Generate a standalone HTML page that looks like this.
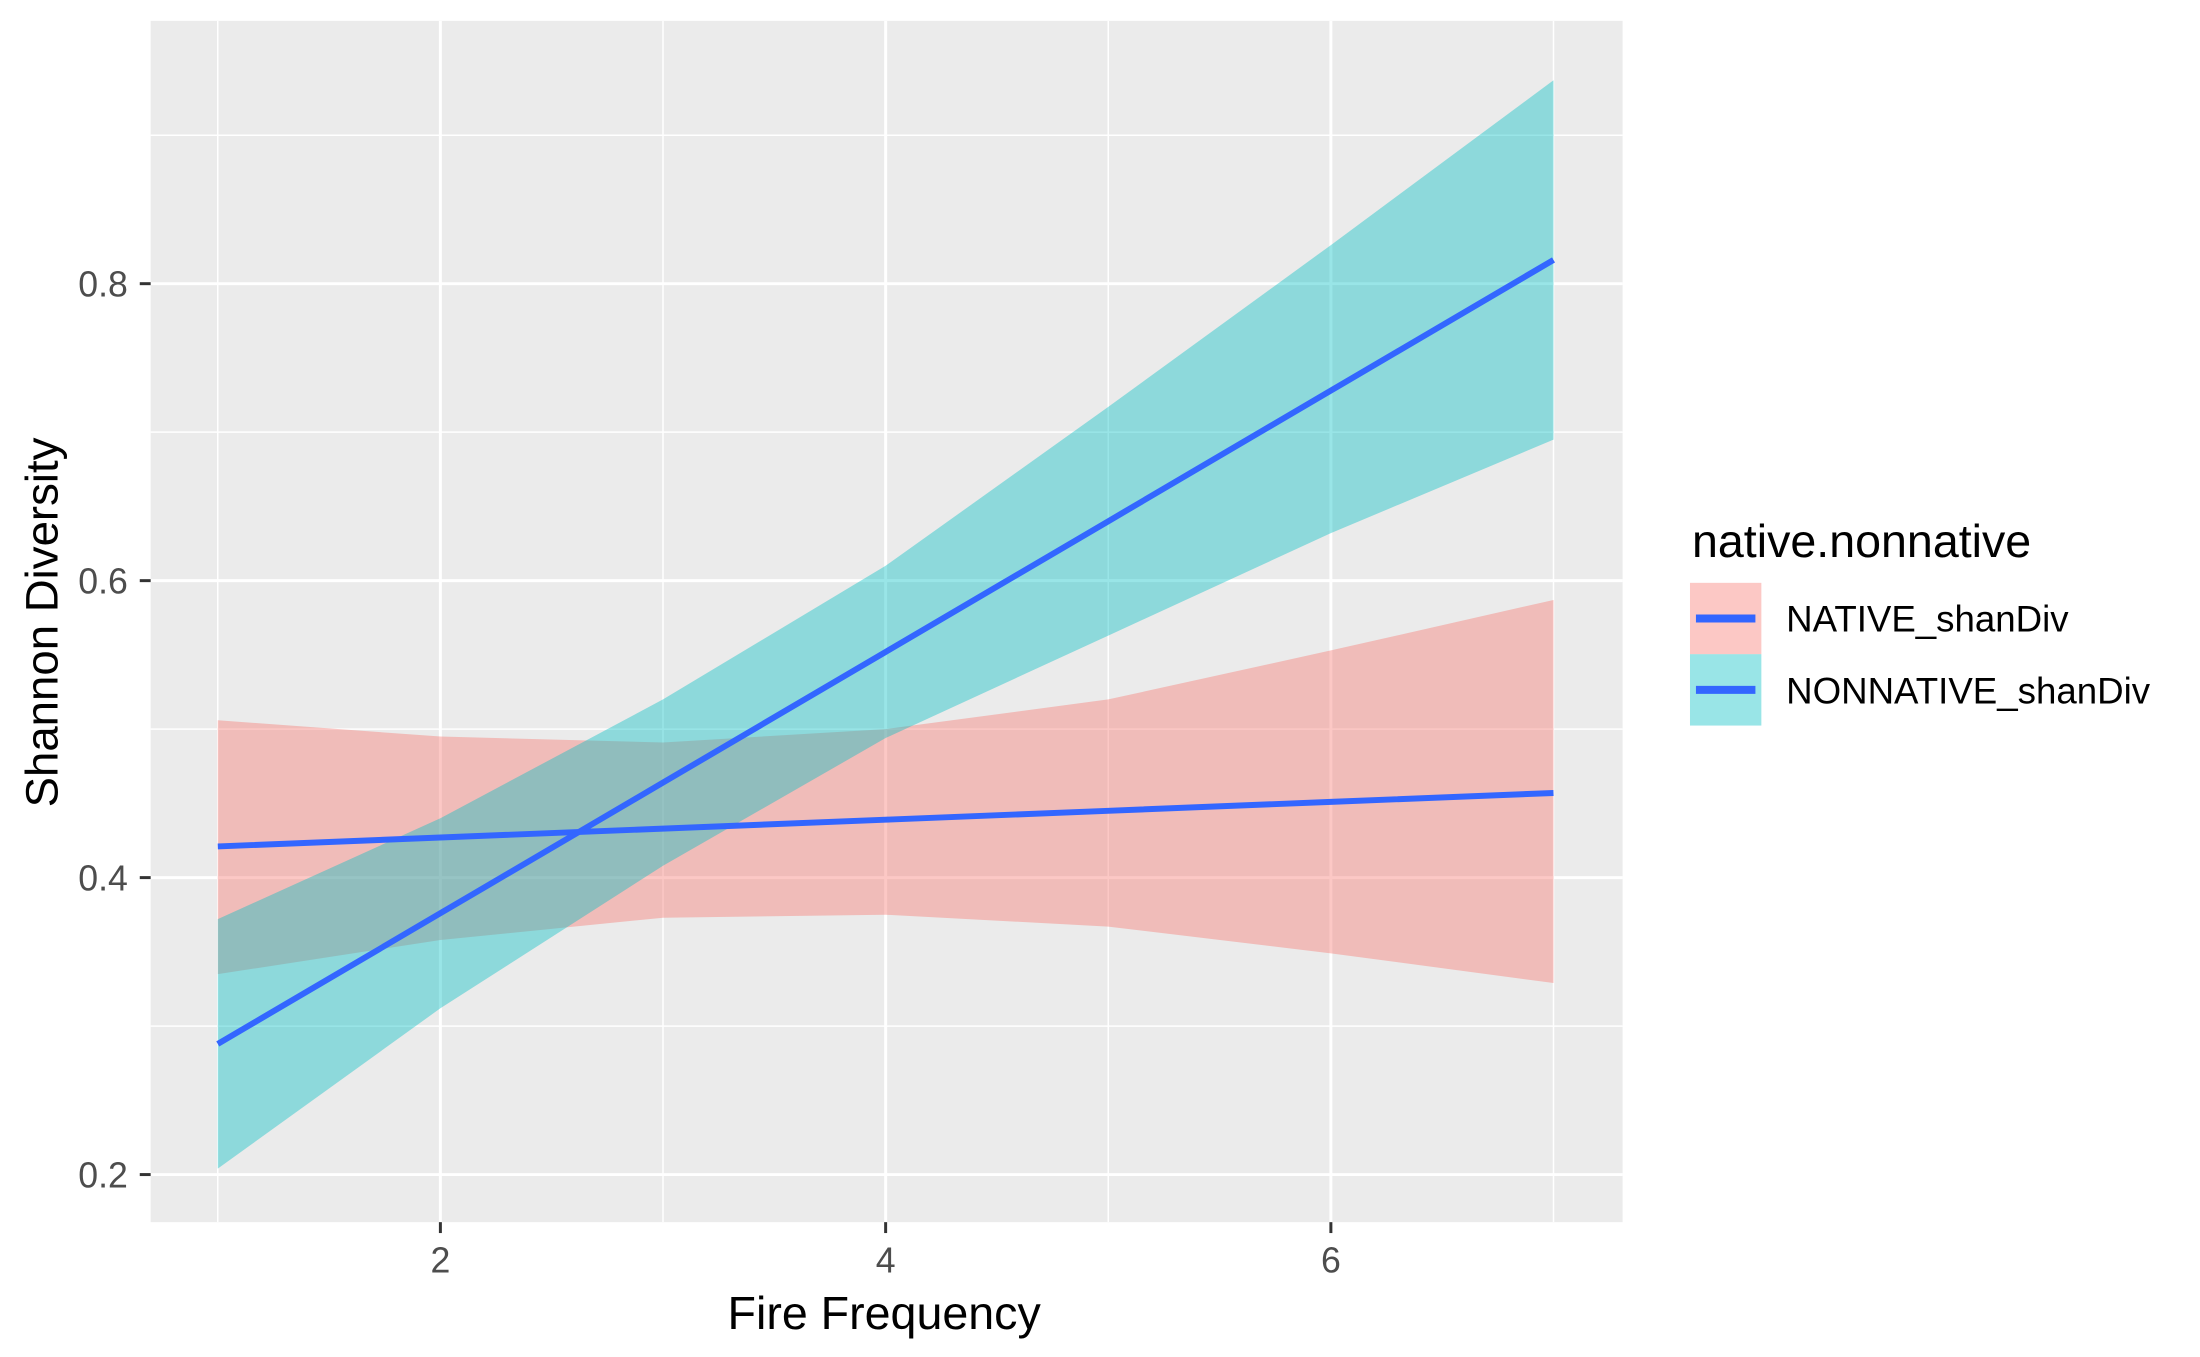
<!DOCTYPE html>
<html><head><meta charset="utf-8"><style>
html,body{margin:0;padding:0;background:#fff;}
svg{display:block;font-family:"Liberation Sans",Arial,sans-serif;}
</style></head><body>
<svg id="chart" width="2200" height="1357" viewBox="0 0 2200 1357" xmlns="http://www.w3.org/2000/svg">
<g transform="scale(0.9912)">
<rect x="152" y="21" width="1485" height="1212" fill="#EBEBEB"/>
<g id="grid"></g>
<g id="bands"></g>
<g id="lines"></g>
<g id="axes"></g>
<text x="892" y="1341" font-size="47" text-anchor="middle" fill="#000">Fire Frequency</text>
<text transform="translate(58,628) rotate(-90)" font-size="46" text-anchor="middle" fill="#000">Shannon Diversity</text>
<g transform="translate(14,5)">
<text x="1693" y="557" font-size="47" fill="#000">native.nonnative</text>
<g>
<rect x="1691" y="583" width="72" height="72" fill="#F8766D" fill-opacity="0.4"/>
<line x1="1697" y1="619" x2="1757" y2="619" stroke="#3366FF" stroke-width="8"/>
<text x="1788" y="632" font-size="37" fill="#000">NATIVE_shanDiv</text>
</g>
<g>
<rect x="1691" y="655" width="72" height="72" fill="#00BFC4" fill-opacity="0.4"/>
<line x1="1697" y1="691" x2="1757" y2="691" stroke="#3366FF" stroke-width="8"/>
<text x="1788" y="705" font-size="37" fill="#000">NONNATIVE_shanDiv</text>
</g>
</g>
</g>
</svg>
<script>
const xs = [1,2,3,4,5,6,7];
const nativeFit = [0.421,0.427,0.433,0.439,0.445,0.451,0.457];
const nativeLower = [0.335,0.358,0.373,0.375,0.367,0.349,0.329];
const nativeUpper = [0.506,0.495,0.491,0.500,0.520,0.553,0.587];
const nonnativeFit = [0.288,0.376,0.464,0.552,0.640,0.728,0.816];
const nonnativeLower = [0.204,0.312,0.408,0.494,0.563,0.632,0.695];
const nonnativeUpper = [0.372,0.440,0.520,0.610,0.717,0.826,0.937];
const xTicks = [2,4,6];
const xMinor = [1,3,5,7];
const yTicks = [0.2,0.4,0.6,0.8];
const yMinor = [0.3,0.5,0.7,0.9];

const NS = "http://www.w3.org/2000/svg";
const px0 = 152, px1 = 1637, py0 = 21, py1 = 1233;
function sx(v){ return 219.7 + (v - 1) * 224.6; }
function sy(v){ return 1185 - (v - 0.2) * 1498; }
function mk(tag, attrs, parent){
  const e = document.createElementNS(NS, tag);
  for (const k in attrs) e.setAttribute(k, attrs[k]);
  parent.appendChild(e);
  return e;
}
const grid = document.getElementById('grid');
xMinor.forEach(v => {
  const l = mk('line', {x1:sx(v), x2:sx(v), y1:py0, y2:py1, stroke:'#fff', 'stroke-width':1.5}, grid);
  
  
});
yMinor.forEach(v => {
  const l = mk('line', {x1:px0, x2:px1, y1:sy(v), y2:sy(v), stroke:'#fff', 'stroke-width':1.5}, grid);
  
  
});
xTicks.forEach(v => {
  const l = mk('line', {x1:sx(v), x2:sx(v), y1:py0, y2:py1, stroke:'#fff', 'stroke-width':3}, grid);
  
  
});
yTicks.forEach(v => {
  const l = mk('line', {x1:px0, x2:px1, y1:sy(v), y2:sy(v), stroke:'#fff', 'stroke-width':3}, grid);
  
  
});

function bandPath(lo, hi){
  let d = '';
  xs.forEach((x,i) => { d += (i ? 'L' : 'M') + sx(x) + ',' + sy(hi[i]); });
  for (let i = xs.length - 1; i >= 0; i--) d += 'L' + sx(xs[i]) + ',' + sy(lo[i]);
  return d + 'Z';
}
function linePath(f){
  return xs.map((x,i) => (i ? 'L' : 'M') + sx(x) + ',' + sy(f[i])).join('');
}
const bands = document.getElementById('bands');
const b1 = mk('path', {d:bandPath(nativeLower, nativeUpper), fill:'#F8766D', 'fill-opacity':0.4}, bands);


const b2 = mk('path', {d:bandPath(nonnativeLower, nonnativeUpper), fill:'#00BFC4', 'fill-opacity':0.4}, bands);


const lines = document.getElementById('lines');
const l1 = mk('path', {d:linePath(nativeFit), fill:'none', stroke:'#3366FF', 'stroke-width':6}, lines);


const l2 = mk('path', {d:linePath(nonnativeFit), fill:'none', stroke:'#3366FF', 'stroke-width':6}, lines);



const axes = document.getElementById('axes');
xTicks.forEach(v => {
  const t = mk('line', {x1:sx(v), x2:sx(v), y1:py1, y2:py1+11, stroke:'#333', 'stroke-width':3}, axes);
  
  
  const tx = mk('text', {x:sx(v), y:1284, 'font-size':36, 'text-anchor':'middle', fill:'#4D4D4D'}, axes);
  tx.textContent = String(v);
  
  
});
yTicks.forEach(v => {
  const t = mk('line', {x1:px0-11, x2:px0, y1:sy(v), y2:sy(v), stroke:'#333', 'stroke-width':3}, axes);
  
  
  const tx = mk('text', {x:129, y:sy(v)+13, 'font-size':36, 'text-anchor':'end', fill:'#4D4D4D'}, axes);
  tx.textContent = v.toFixed(1);
  
  
});
</script>
</body></html>
